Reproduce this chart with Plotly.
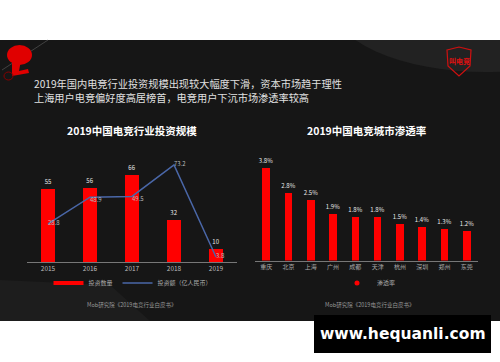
import plotly.graph_objects as go

W, H = 500, 362
FONT = "Noto Sans CJK SC"

# ---- data ----
years = ["2015", "2016", "2017", "2018", "2019"]
invest_count = [55, 56, 66, 32, 10]
invest_amount = [28.8, 48.9, 49.5, 73.2, 3.8]

cities = ["重庆", "北京", "上海", "广州", "成都", "天津", "杭州", "深圳", "郑州", "东莞"]
penetration = [3.8, 2.8, 2.5, 1.9, 1.8, 1.8, 1.5, 1.4, 1.3, 1.2]

headline = ["2019年国内电竞行业投资规模出现较大幅度下滑，资本市场趋于理性",
            "上海用户电竞偏好度高居榜首，电竞用户下沉市场渗透率较高"]
title_left = "2019中国电竞行业投资规模"
title_right = "2019中国电竞城市渗透率"
source_text = "Mob研究院《2019电竞行业白皮书》"


def px(x):
    return x / W


def py(y):
    return 1 - y / H


fig = go.Figure()

fig.add_trace(go.Bar(
    x=years, y=invest_count, name="投资数量", width=0.31,
    marker=dict(color="#ff0000", line=dict(width=0)),
    text=[str(v) for v in invest_count], textposition="outside", constraintext="none",
    textfont=dict(color="#e8e8e8", size=6, family=FONT),
    cliponaxis=False, xaxis="x", yaxis="y", showlegend=False))

# legend stand-in for the bar series (short thick red stroke as in the reference)
fig.add_trace(go.Scatter(
    x=[None], y=[None], name="投资数量", mode="lines",
    line=dict(color="#ff0000", width=4), xaxis="x", yaxis="y", legend="legend"))

fig.add_trace(go.Scatter(
    x=years, y=invest_amount, name="投资额（亿人民币）", mode="lines+text",
    line=dict(color="#4a67a8", width=1.5),
    text=[str(v) for v in invest_amount],
    textposition=["middle right", "bottom right", "bottom right", "middle right", "middle right"],
    textfont=dict(color="#bbbbbb", size=6, family=FONT),
    cliponaxis=False, xaxis="x", yaxis="y", legend="legend"))

fig.add_trace(go.Bar(
    x=cities, y=penetration, name="渗透率", width=0.34,
    marker=dict(color="#ff0000", line=dict(width=0)),
    text=[f"{v}%" for v in penetration], textposition="outside", constraintext="none",
    textfont=dict(color="#e8e8e8", size=6, family=FONT),
    cliponaxis=False, xaxis="x2", yaxis="y2", showlegend=False))

fig.add_trace(go.Scatter(
    x=[None], y=[None], name="渗透率", mode="markers",
    marker=dict(color="#ff0000", size=5, symbol="circle"),
    xaxis="x2", yaxis="y2", legend="legend2"))

axis_common = dict(showgrid=False, zeroline=False, fixedrange=True)

fig.update_layout(
    width=W, height=H,
    margin=dict(l=0, r=0, t=0, b=0),
    paper_bgcolor="white", plot_bgcolor="rgba(0,0,0,0)",
    font=dict(family=FONT, color="#bbbbbb"),
    bargap=0,
    xaxis=dict(domain=[px(27), px(237)], anchor="y", showline=True, linecolor="#777777",
               linewidth=1, ticks="", tickfont=dict(size=6.5, color="#bbbbbb"), **axis_common),
    yaxis=dict(domain=[py(262), py(150)], anchor="x", range=[0, 84.5], visible=False,
               **axis_common),
    xaxis2=dict(domain=[px(255), px(478)], anchor="y2", showline=True, linecolor="#777777",
                linewidth=1, ticks="", tickfont=dict(size=6, color="#aaaaaa"), **axis_common),
    yaxis2=dict(domain=[py(260.5), py(160)], anchor="x2", range=[0, 4.144], visible=False,
                **axis_common),
    legend=dict(orientation="h", x=px(133), y=py(283), xanchor="center", yanchor="middle",
                font=dict(size=6, color="#aaaaaa"), bgcolor="rgba(0,0,0,0)",
                itemwidth=30, tracegroupgap=0),
    legend2=dict(orientation="h", x=px(369), y=py(283), xanchor="center", yanchor="middle",
                 font=dict(size=6, color="#aaaaaa"), bgcolor="rgba(0,0,0,0)",
                 itemwidth=30),
    showlegend=True,
)

shapes = [
    # dark panel
    dict(type="rect", xref="paper", yref="paper", x0=0, x1=1, y0=py(321), y1=py(40),
         fillcolor="#161616", line=dict(width=0), layer="below"),
    # lighter curve top right
    dict(type="circle", xref="paper", yref="paper", x0=px(330), x1=px(640), y0=py(72), y1=py(-70),
         fillcolor="#222222", line=dict(width=0), layer="below"),
    # lighter streak bottom left
    dict(type="path", xref="paper", yref="paper",
         path=f"M 0 {py(321)} L {px(150)} {py(321)} L {px(110)} {py(285)} L 0 {py(280)} Z",
         fillcolor="#1d1d1d", line=dict(width=0), layer="below"),
    # white top strip
    dict(type="rect", xref="paper", yref="paper", x0=0, x1=1, y0=py(40), y1=1,
         fillcolor="white", line=dict(width=0), layer="below"),
    # top-left logo: thin diagonal line
    dict(type="line", xref="paper", yref="paper", x0=px(2), y0=py(70), x1=px(48), y1=py(40),
         line=dict(color="#555555", width=0.7)),
    # red blob
    dict(type="circle", xref="paper", yref="paper", x0=px(7), x1=px(32), y0=py(65), y1=py(45),
         fillcolor="#e00000", line=dict(width=0)),
    dict(type="path", xref="paper", yref="paper",
         path=f"M {px(12)} {py(60)} L {px(21)} {py(60)} L {px(19)} {py(71)} L {px(28)} {py(69)} "
              f"L {px(29)} {py(73)} L {px(12)} {py(76)} Z",
         fillcolor="#e00000", line=dict(width=0)),
    dict(type="circle", xref="paper", yref="paper", x0=px(4), x1=px(13), y0=py(80), y1=py(72),
         fillcolor="rgba(0,0,0,0)", line=dict(color="#8a0000", width=1)),
    # top-right shield logo
    dict(type="path", xref="paper", yref="paper",
         path=f"M {px(447)} {py(50)} L {px(459)} {py(47)} L {px(471)} {py(50)} L {px(470)} {py(66)} "
              f"L {px(459)} {py(76)} L {px(448)} {py(66)} Z",
         fillcolor="rgba(0,0,0,0)", line=dict(color="#d01010", width=1.2)),
    # watermark box
    dict(type="rect", xref="paper", yref="paper", x0=px(314), x1=px(491), y0=py(353), y1=py(315),
         fillcolor="black", line=dict(width=0)),
]

annotations = [
    dict(text=headline[0], x=px(32), y=py(83), xanchor="left", yanchor="middle",
         font=dict(size=10.2, color="#e0e0e0", family=FONT)),
    dict(text=headline[1], x=px(32), y=py(97.5), xanchor="left", yanchor="middle",
         font=dict(size=10.2, color="#e0e0e0", family=FONT)),
    dict(text="<b>" + title_left + "</b>", x=px(132), y=py(130), xanchor="center", yanchor="middle",
         font=dict(size=10.5, color="white", family=FONT)),
    dict(text="<b>" + title_right + "</b>", x=px(367), y=py(130), xanchor="center", yanchor="middle",
         font=dict(size=10.5, color="white", family=FONT)),
    dict(text=source_text, x=px(131), y=py(305), xanchor="center", yanchor="middle",
         font=dict(size=5.5, color="#999999", family=FONT)),
    dict(text=source_text, x=px(369), y=py(305), xanchor="center", yanchor="middle",
         font=dict(size=5.5, color="#999999", family=FONT)),
    dict(text="<b>叫电竞</b>", x=px(459), y=py(61), xanchor="center", yanchor="middle",
         font=dict(size=7, color="#e01010", family=FONT)),
    dict(text="<b>www.hequanli.com</b>", x=px(402.5), y=py(334), xanchor="center", yanchor="middle",
         font=dict(size=15.5, color="white", family="DejaVu Sans")),
]
for a in annotations:
    a.update(xref="paper", yref="paper", showarrow=False)

fig.update_layout(shapes=shapes, annotations=annotations)

fig.write_html("out.html", config={"displayModeBar": False},
               post_script="document.body.style.margin='0';document.body.style.overflow='hidden';")
